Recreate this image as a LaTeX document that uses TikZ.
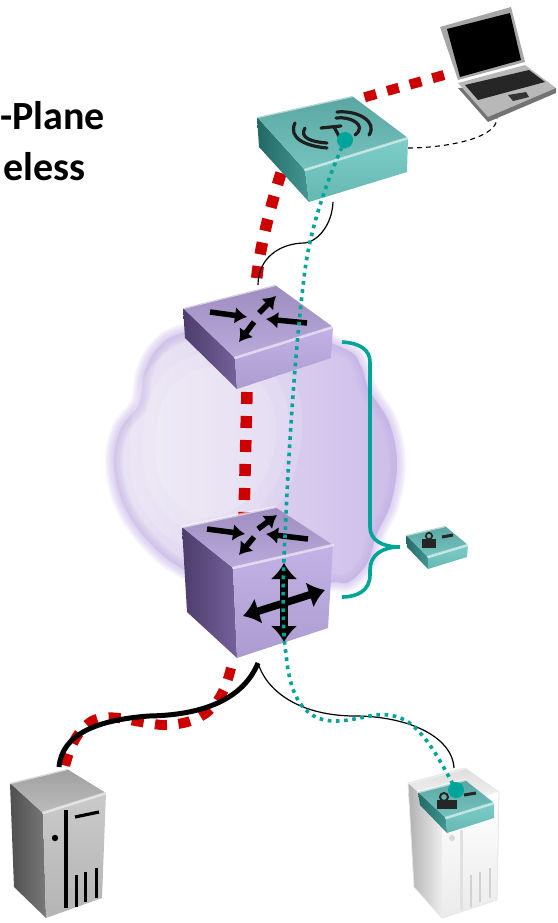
\documentclass[tikz,border=0pt]{standalone}
\usepackage{fontspec}
\setmainfont{Carlito}
\usetikzlibrary{arrows.meta}
\definecolor{redline}{HTML}{CC0000}
\definecolor{tealline}{HTML}{00A499}
\definecolor{tealtop}{HTML}{66BDB8}
\definecolor{tealright}{HTML}{6FC7C2}
\definecolor{tealleft}{HTML}{2E8B87}
\definecolor{purptop}{HTML}{B3A0D8}
\definecolor{purpright}{HTML}{BBA9E2}
\definecolor{purpleft}{HTML}{66508F}
\definecolor{greytop}{HTML}{B5B5B5}
\definecolor{greyright}{HTML}{C4C4C4}
\definecolor{greyleft}{HTML}{6A6A6A}
\definecolor{whitetop}{HTML}{FBFBFB}
\definecolor{whiteright}{HTML}{FFFFFF}
\definecolor{whiteleft}{HTML}{EBEBEB}
\definecolor{cloudedge}{HTML}{C4B2E6}
\tikzset{
  redpath/.style={draw=redline,line width=10pt,dash pattern=on 12pt off 11.5pt},
  reddash/.style={draw=redline,line width=11.5pt,dash pattern=on 12pt off 12pt},
  tealdots/.style={draw=tealline,line width=3.6pt,dash pattern=on 3.6pt off 4.6pt},
  tealdot/.style={fill=tealline,draw=none},
  thinblack/.style={draw=black,line width=1.2pt},
  thickblack/.style={draw=black,line width=5pt},
  dashblack/.style={draw=black,line width=1.1pt,dash pattern=on 5pt off 4pt},
  bracestyle/.style={draw=tealline,line width=3.6pt},
  bevel/.style={draw=white,line width=2.6pt,opacity=.55,line cap=round},
  toparrow/.style={draw=black,line width=5.5pt,-{Latex[length=12pt,width=17pt]}},
  crossarrow/.style={draw=black,line width=7.5pt,{Latex[length=16pt,width=27pt]}-{Latex[length=16pt,width=27pt]}},
  titletext/.style={font=\bfseries\fontsize{40}{40}\selectfont,anchor=base east,inner sep=0pt},
  iconline/.style={draw=black!88,line width=3.2pt,line cap=round},
}
% #1 colour prefix; #2 left #3 back #4 right #5 front-top #6 front-bottom #7 right-bottom #8 left-bottom
\newcommand{\devbox}[8]{%
  \shade[left color=#1left!75!black,right color=#1left!90!white] #2 -- #5 -- #6 -- #8 -- cycle;
  \shade[top color=#1right!90!white,bottom color=#1right!92!black] #5 -- #4 -- #7 -- #6 -- cycle;
  \shade[top color=#1top!88!black,bottom color=#1top!90!white] #2 -- #3 -- #4 -- #5 -- cycle;
  \draw[bevel] #2 -- #3;
  \draw[bevel] #5 -- #4;
}
\newcommand{\cloudpts}{(183,333) (157,349) (144,374) (139,404) (120,430) (114,465) (124,506) (149,542) (185,570) (255,596) (328,583) (349,582) (368,562) (376,536) (391,503) (397,462) (389,422) (369,390) (361,366) (343,348) (260,322)}
\begin{document}
\begin{tikzpicture}[x=1pt,y=-1pt]
\useasboundingbox (0,0) rectangle (557,923);
% cloud
\shade[left color=purptop!28,right color=cloudedge!85]
    plot[smooth cycle,tension=.6] coordinates {\cloudpts};
\foreach \w in {18,15,12,9,6,3}{
  \draw[draw=cloudedge,fill=none,line width=\w pt,opacity=.13,line join=round]
    plot[smooth cycle,tension=.6] coordinates {\cloudpts};
}
\foreach \s in {1,.85,.7}{
  \fill[white,opacity=.14,shift={(215,440)},scale=\s,shift={(-215,-440)}]
    plot[smooth cycle,tension=.8] coordinates {(170,350) (130,440) (160,530) (240,540) (300,450) (270,350)};
}
% anchors
\coordinate (laptop) at (444,75);
\coordinate (apA) at (362,98);
\coordinate (apB) at (281,173);
\coordinate (apDot) at (345,140);
\coordinate (apWire) at (333,202);
\coordinate (apDash) at (408,148);
\coordinate (laptopDash) at (497,118);
\coordinate (routerA) at (256,287);
\coordinate (routerAw) at (258,285);
\coordinate (routerB) at (244,515);
\coordinate (junction) at (258,663);
\coordinate (redStart) at (231,668);
\coordinate (srvL) at (59,767);
\coordinate (srvLr) at (64,770);
\coordinate (srvR) at (454,768);
\coordinate (srvDot) at (456,790);
% red paths
\draw[redpath] (laptop) -- (apA);
\draw[reddash] (apB) .. controls (268,215) and (258,255) .. (routerA);
\draw[reddash] (247,392) -- (routerB);
\draw[redpath] (redStart) .. controls (222,705) and (205,725) .. (162,725)
   .. controls (130,722) and (110,712) .. (92,721) .. controls (78,730) and (70,745) .. (srvLr);
% black wires
\draw[thinblack] (apWire) .. controls (332,225) and (318,241) .. (305,243)
   .. controls (280,243) and (258,258) .. (routerAw);
\draw[dashblack] (apDash) .. controls (440,148) and (497,140) .. (laptopDash);
\draw[thickblack] (junction) .. controls (245,695) and (210,715) .. (149,716)
   .. controls (95,720) and (62,735) .. (srvL);
\draw[thinblack] (junction) .. controls (268,695) and (305,716) .. (355,716)
   .. controls (405,716) and (452,735) .. (srvR);
% laptop
\fill[black!35] (440,27) -- (511,7) -- (525,62) -- (458,80) -- cycle;
\fill[black] (447,29) -- (510,13) -- (521,60) -- (460,77) -- cycle;
\fill[black!55] (458,88) -- (488,122) -- (556,93) -- (556,88) -- cycle;
\fill[black!28] (458,83) -- (525,65) -- (556,88) -- (488,117) -- cycle;
\fill[black!85] (465,85) -- (529,70) -- (545,82) -- (478,100) -- cycle;
\fill[black!80] (508,95) -- (526,92) -- (529,97) -- (513,101) -- cycle;
% AP
\devbox{teal}{(257,117)}{(352,96)}{(408,138)}{(305,170)}{(309,202)}{(407,172)}{(259,147)}
\draw[iconline] (295,123) .. controls (288,138) and (305,146) .. (327,148);
\draw[iconline] (305,128) .. controls (299,138) and (312,142) .. (327,143);
\draw[iconline] (337,112) .. controls (358,110) and (378,122) .. (369,135);
\draw[iconline] (336,118) .. controls (350,116) and (368,125) .. (355,135);
\draw[iconline] (321,128) -- (341,126);
\draw[iconline] (334,127) -- (345,147);
% router 1
\devbox{purp}{(183,308)}{(275,285)}{(333,327)}{(235,358)}{(237,389)}{(331,358)}{(185,338)}
\draw[toparrow] (210,312) -- (247,317);
\draw[toparrow] (259,313) -- (276,296);
\draw[toparrow] (307,323) -- (266,319);
\draw[toparrow] (254,322) -- (239,342);
% router 2
\devbox{purp}{(182,527)}{(275,507)}{(333,545)}{(233,568)}{(237,658)}{(328,628)}{(187,612)}
\draw[toparrow] (207,529) -- (245,534);
\draw[toparrow] (258,529) -- (277,515);
\draw[toparrow] (308,539) -- (266,534);
\draw[toparrow] (254,537) -- (239,555);
\draw[crossarrow] (284,563) -- (284,642);
\draw[crossarrow] (243,616) -- (325,590);
% brace
\draw[bracestyle] (342,342) .. controls (360,343) and (370,350) .. (370,362)
  -- (370,527) .. controls (370,540) and (382,547) .. (400,547)
  .. controls (382,547) and (370,555) .. (370,570)
  -- (370,575) .. controls (370,590) and (358,597) .. (342,597);
% small lock device
\devbox{teal}{(406,535)}{(445,526)}{(468,545)}{(428,557)}{(428,569)}{(467,557)}{(407,547)}
\fill[black!85] (422,539) rectangle (436,548);
\draw[black!85,line width=1.6pt] (429,536) circle (3.2pt);
\draw[black!85,line width=3pt] (442,537) -- (453,535);
% dark server
\devbox{grey}{(10,783)}{(67,769)}{(106,793)}{(43,813)}{(46,918)}{(102,898)}{(14,887)}
\draw[black,line width=3.2pt] (66,810) -- (66,908);
\draw[black,line width=3.2pt] (75,817) -- (99,812);
\fill[black] (55,838) circle (3.2pt);
\draw[black,line width=3pt] (76,875) -- (76,907);
\draw[black,line width=3pt] (85,872) -- (85,902);
\draw[black,line width=3pt] (96,868) -- (96,898);
% white server
\devbox{white}{(408,783)}{(465,768)}{(499,792)}{(442,813)}{(442,918)}{(497,900)}{(414,887)}
\draw[black!10,line width=.8pt] (408,783) -- (465,768) -- (499,792) -- (497,900) -- (442,918) -- (414,887) -- cycle;
\draw[black!12,line width=3pt] (461,830) -- (461,910);
\fill[black!15] (452,838) circle (3pt);
\draw[black!18,line width=2.6pt] (471,875) -- (471,907);
\draw[black!18,line width=2.6pt] (480,872) -- (480,902);
\draw[black!18,line width=2.6pt] (490,868) -- (490,898);
% lock device on white server
\devbox{teal}{(418,792)}{(465,780)}{(494,803)}{(446,818)}{(447,833)}{(494,818)}{(420,805)}
\fill[black!85] (437,800) rectangle (457,809);
\draw[black!85,line width=2pt] (444,797) circle (4pt);
\draw[black!85,line width=3pt] (464,795) -- (476,793);
% teal dotted path on top
\draw[tealdots] (apDot) .. controls (328,178) and (311,225) .. (305,270)
  .. controls (296,340) and (289,440) .. (285,537)
  .. controls (282,590) and (283,640) .. (286,653)
  .. controls (289,690) and (300,722) .. (337,721)
  .. controls (365,720) and (380,708) .. (405,720)
  .. controls (425,732) and (440,760) .. (srvDot);
\fill[tealdot] (apDot) circle (8pt);
\fill[tealdot] (srvDot) circle (8pt);
% title
\node[titletext] (titleA) at (105,130) {-Plane};
\node[titletext] (titleB) at (86,180) {eless};
\end{tikzpicture}
\end{document}
